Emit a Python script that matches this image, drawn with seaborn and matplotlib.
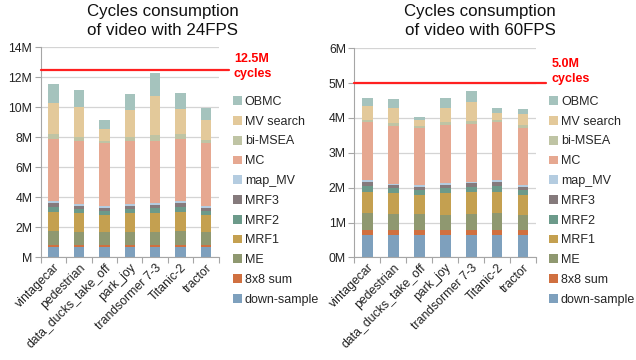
import numpy as np
import pandas as pd
import matplotlib
matplotlib.use("Agg")
import matplotlib.pyplot as plt
from matplotlib.patches import Patch
import seaborn as sns

videos = ["vintagecar", "pedestrian", "data_ducks_take_off", "park_joy",
          "trandsormer 7-3", "Titanic-2", "tractor"]

# stacking order, bottom to top
stages = ["down-sample", "8x8 sum", "ME", "MRF1", "MRF2", "MRF3",
          "map_MV", "MC", "bi-MSEA", "MV search", "OBMC"]

stage_colors = ["#7ea0bd", "#d07040", "#8f9870", "#c4a050", "#6c9a8a",
                "#857a7c", "#b4cce0", "#e6a891", "#bfc4a4", "#e3c99a", "#a5c3bd"]

# cycles (millions) per stage, 24 FPS
fps24_down_sample = [0.69, 0.69, 0.69, 0.69, 0.69, 0.69, 0.69]
fps24_sum8x8 = [0.11, 0.11, 0.11, 0.11, 0.11, 0.11, 0.11]
fps24_me = [0.98, 0.91, 0.91, 0.87, 0.91, 0.98, 0.87]
fps24_mrf1 = [1.24, 1.22, 1.09, 1.26, 1.27, 1.24, 1.13]
fps24_mrf2 = [0.33, 0.29, 0.29, 0.29, 0.29, 0.33, 0.29]
fps24_mrf3 = [0.25, 0.22, 0.22, 0.22, 0.22, 0.25, 0.22]
fps24_map_mv = [0.13, 0.11, 0.13, 0.11, 0.13, 0.13, 0.13]
fps24_mc = [4.16, 4.18, 4.18, 4.18, 4.15, 4.18, 4.16]
fps24_bi_msea = [0.33, 0.29, 0.15, 0.27, 0.41, 0.31, 0.24]
fps24_mv_search = [2.09, 2.00, 0.80, 1.82, 2.59, 1.69, 1.33]
fps24_obmc = [1.24, 1.15, 0.56, 1.07, 1.54, 1.04, 0.78]

# cycles (millions) per stage, 60 FPS
fps60_down_sample = [0.64, 0.64, 0.64, 0.64, 0.64, 0.64, 0.64]
fps60_sum8x8 = [0.14, 0.14, 0.14, 0.14, 0.14, 0.14, 0.14]
fps60_me = [0.49, 0.46, 0.46, 0.43, 0.46, 0.49, 0.44]
fps60_mrf1 = [0.62, 0.60, 0.56, 0.63, 0.63, 0.62, 0.58]
fps60_mrf2 = [0.16, 0.14, 0.13, 0.14, 0.15, 0.17, 0.13]
fps60_mrf3 = [0.11, 0.09, 0.10, 0.11, 0.10, 0.11, 0.10]
fps60_map_mv = [0.05, 0.04, 0.04, 0.04, 0.04, 0.04, 0.04]
fps60_mc = [1.66, 1.67, 1.64, 1.67, 1.67, 1.66, 1.65]
fps60_bi_msea = [0.07, 0.07, 0.06, 0.07, 0.07, 0.06, 0.08]
fps60_mv_search = [0.40, 0.44, 0.16, 0.43, 0.55, 0.22, 0.30]
fps60_obmc = [0.24, 0.26, 0.11, 0.27, 0.33, 0.14, 0.17]

budget24 = 12.5
budget60 = 5.0

fps24 = [fps24_down_sample, fps24_sum8x8, fps24_me, fps24_mrf1, fps24_mrf2,
         fps24_mrf3, fps24_map_mv, fps24_mc, fps24_bi_msea, fps24_mv_search, fps24_obmc]
fps60 = [fps60_down_sample, fps60_sum8x8, fps60_me, fps60_mrf1, fps60_mrf2,
         fps60_mrf3, fps60_map_mv, fps60_mc, fps60_bi_msea, fps60_mv_search, fps60_obmc]

sns.set_theme(style="white")
plt.rcParams["font.family"] = ["Liberation Sans", "DejaVu Sans"]

fig = plt.figure(figsize=(6.36, 3.6), dpi=100)
ax1 = fig.add_axes([0.064, 0.285, 0.280, 0.584])
ax2 = fig.add_axes([0.557, 0.285, 0.286, 0.581])


def draw_panel(ax, series, ymax, yticklabels, budget):
    df = pd.DataFrame(np.array(series).T, columns=stages)
    df.insert(0, "video", videos)
    cum = df[stages].cumsum(axis=1)
    # overlay cumulative totals from the top stage down
    for i in range(len(stages) - 1, -1, -1):
        sns.barplot(x=df["video"], y=cum[stages[i]], color=stage_colors[i],
                    saturation=1, width=0.41, errorbar=None, ax=ax,
                    linewidth=0, zorder=2)
    ax.set_xlim(-0.5, len(videos) - 0.5)
    ax.set_ylim(0, ymax)
    ax.set_yticks(np.arange(0, ymax + 0.01, ymax / (len(yticklabels) - 1)))
    ax.set_yticklabels(yticklabels, fontsize=8.8, color="#222222")
    ax.yaxis.grid(True, color="#d4d4d4", linewidth=0.9, zorder=0)
    ax.set_axisbelow(True)
    ax.set_xlabel("")
    ax.set_ylabel("")
    ax.set_xticks(range(len(videos)))
    ax.set_xticklabels(videos, rotation=45, ha="right", rotation_mode="anchor",
                       fontsize=8.8, color="#222222")
    ax.set_xticks(np.arange(-0.5, len(videos), 1), minor=True)
    ax.tick_params(axis="x", which="major", length=0, pad=3)
    ax.tick_params(axis="x", which="minor", length=4, color="#a6a6a6", width=0.8,
                   direction="out", bottom=True)
    ax.tick_params(axis="y", length=4, color="#a6a6a6", width=0.8, left=True, pad=2)
    for s in ["top", "right"]:
        ax.spines[s].set_visible(False)
    for s in ["left", "bottom"]:
        ax.spines[s].set_color("#a6a6a6")
        ax.spines[s].set_linewidth(0.8)
    ax.axhline(budget, xmin=0, xmax=1.055, color="#ff2020", linewidth=1.6,
               clip_on=False, zorder=3)


draw_panel(ax1, fps24, 14, ["M", "2M", "4M", "6M", "8M", "10M", "12M", "14M"], budget24)
draw_panel(ax2, fps60, 6, ["0M", "1M", "2M", "3M", "4M", "5M", "6M"], budget60)

fig.text(0.256, 0.988, "Cycles consumption\nof video with 24FPS", ha="center",
         va="top", fontsize=12.2, color="#111111", linespacing=1.3)
fig.text(0.755, 0.988, "Cycles consumption\nof video with 60FPS", ha="center",
         va="top", fontsize=12.2, color="#111111", linespacing=1.3)

fig.text(234 / 636, 1 - 53 / 360, f"{budget24}M\ncycles", ha="left", va="top",
         fontsize=9, fontweight="bold", color="#ff0000", linespacing=1.35)
fig.text(552 / 636, 1 - 58 / 360, f"{budget60:.1f}M\ncycles", ha="left", va="top",
         fontsize=9, fontweight="bold", color="#ff0000", linespacing=1.35)

handles = [Patch(facecolor=c, edgecolor="none", label=s)
           for s, c in zip(stages[::-1], stage_colors[::-1])]
for x0 in (233 / 636, 549 / 636):
    fig.legend(handles=handles, loc="upper left", bbox_to_anchor=(x0, 1 - 96 / 360),
               frameon=False, fontsize=9, handlelength=0.7, handleheight=0.7,
               handletextpad=0.25, labelspacing=0.62, borderpad=0, borderaxespad=0)

fig.savefig("out.png", dpi=100)
